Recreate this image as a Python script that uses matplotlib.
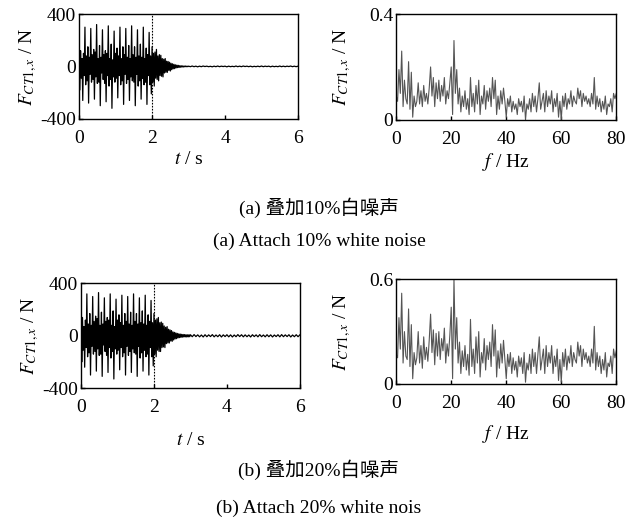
import numpy as np
import matplotlib
matplotlib.use("Agg")
import matplotlib.pyplot as plt

plt.rcParams['font.family'] = ['Liberation Serif', 'Noto Sans CJK SC']
plt.rcParams['mathtext.fontset'] = 'stix'
plt.rcParams['axes.unicode_minus'] = False
plt.rcParams['font.size'] = 14

# time signals, 0-2 s, every 0.02 s (forced response + noise)
sig_a_main = [
    240, -180, 120, -90, 60, -260, 100, -70, 300, -140,
    80, -110, 150, -280, 70, -60, 290, -120, 90, -100,
    130, -250, 110, -80, 320, -130, 60, -120, 160, -300,
    70, -50, 280, -100, 90, -130, 120, -270, 100, -70,
    310, -150, 60, -100, 170, -320, 50, -80, 270, -120,
    100, -90, 140, -240, 80, -70, 300, -140, 60, -110,
    150, -290, 90, -60, 290, -130, 70, -100, 160, -260,
    60, -80, 310, -110, 90, -120, 150, -300, 70, -60,
    280, -150, 80, -110, 170, -250, 70, -90, 300, -140,
    60, -120, 140, -290, 90, -70, 260, -140, 80, -210]
# 2-3 s, every 0.02 s (free decay)
sig_a_decay = [
    150, -120, 100, -150, 110, -90, 130, -100, 80, -110,
    90, -70, 85, -75, 60, -80, 55, -50, 60, -45,
    40, -45, 38, -30, 32, -35, 24, -25, 20, -18,
    16, -17, 12, -11, 10, -9, 8, -8, 6, -6,
    5, -5, 4, -4, 3, -3, 3, -2, 2, -2]
# 3-6 s, every 0.05 s
sig_a_tail = [
    2, -2, 3, -2, 2, -3, 2, -2, 3, -1, 2, -2, 1, -3, 2, -2, 3, -2, 2, -1,
    2, -3, 2, -2, 1, -2, 3, -2, 2, -2, 3, -1, 2, -2, 2, -3, 1, -2, 2, -2,
    3, -2, 2, -1, 2, -3, 2, -2, 1, -2, 3, -2, 2, -2, 2, -1, 3, -2, 2, -2, 2]

sig_b_main = [
    280, -200, 140, -110, 70, -240, 120, -90, 320, -160,
    90, -130, 170, -300, 80, -80, 300, -140, 110, -120,
    150, -270, 130, -100, 330, -150, 80, -140, 180, -310,
    90, -70, 290, -120, 110, -150, 140, -280, 120, -90,
    320, -170, 80, -120, 190, -330, 70, -100, 280, -140,
    120, -110, 160, -260, 100, -90, 310, -160, 80, -130,
    170, -300, 110, -80, 300, -150, 90, -120, 180, -280,
    80, -100, 320, -130, 110, -140, 170, -310, 90, -80,
    290, -170, 100, -130, 190, -270, 90, -110, 310, -160,
    80, -140, 160, -300, 110, -90, 270, -160, 100, -230]
sig_b_decay = [
    170, -140, 120, -160, 130, -110, 140, -120, 100, -120,
    105, -90, 95, -85, 75, -90, 65, -60, 70, -55,
    50, -55, 45, -40, 40, -42, 30, -32, 26, -24,
    22, -22, 18, -16, 15, -14, 13, -12, 11, -10,
    10, -9, 9, -8, 8, -9, 7, -8, 8, -7]
sig_b_tail = [
    8, -7, 9, -6, 7, -8, 6, -9, 8, -7, 7, -6, 9, -8, 6, -7, 8, -9, 7, -6,
    8, -8, 7, -9, 6, -7, 9, -6, 8, -8, 7, -7, 6, -9, 8, -6, 7, -8, 9, -7,
    6, -8, 8, -7, 7, -9, 6, -6, 8, -8, 9, -7, 7, -6, 8, -9, 6, -7, 8, -7, 7]

# amplitude spectra, 0-80 Hz every 0.5 Hz
spec_a = [
    0.09, 0.07, 0.19, 0.10, 0.26, 0.05, 0.15, 0.08, 0.06, 0.22,
    0.04, 0.18, 0.01, 0.09, 0.05, 0.07, 0.14, 0.06, 0.11, 0.05,
    0.13, 0.07, 0.10, 0.06, 0.12, 0.20, 0.09, 0.16, 0.05, 0.14,
    0.08, 0.15, 0.07, 0.13, 0.09, 0.16, 0.06, 0.11, 0.08, 0.14,
    0.20, 0.02, 0.30, 0.10, 0.19, 0.06, 0.12, 0.03, 0.09, 0.05,
    0.11, 0.04, 0.08, 0.02, 0.16, 0.05, 0.10, 0.03, 0.13, 0.06,
    0.15, 0.02, 0.09, 0.06, 0.13, 0.04, 0.11, 0.07, 0.12, 0.05,
    0.16, 0.08, 0.15, 0.02, 0.09, 0.04, 0.11, 0.06, 0.12, 0.07,
    0.01, 0.08, 0.05, 0.09, 0.03, 0.07, 0.04, 0.06, 0.02, 0.08,
    0.05, 0.07, 0.03, 0.09, 0.00, 0.06, 0.04, 0.08, 0.03, 0.10,
    0.05, 0.09, 0.03, 0.08, 0.14, 0.04, 0.07, 0.10, 0.03, 0.11,
    0.05, 0.09, 0.06, 0.11, 0.03, 0.08, 0.05, 0.10, 0.01, 0.07,
    0.00, 0.09, 0.05, 0.10, 0.04, 0.08, 0.06, 0.11, 0.05, 0.09,
    0.07, 0.06, 0.12, 0.08, 0.11, 0.05, 0.10, 0.07, 0.09, 0.06,
    0.08, 0.05, 0.10, 0.06, 0.16, 0.04, 0.09, 0.05, 0.08, 0.03,
    0.07, 0.04, 0.09, 0.02, 0.06, 0.05, 0.08, 0.03, 0.10, 0.08, 0.10]
spec_b = [
    0.17, 0.15, 0.38, 0.20, 0.52, 0.12, 0.30, 0.16, 0.14, 0.43,
    0.10, 0.34, 0.03, 0.18, 0.11, 0.15, 0.30, 0.12, 0.22, 0.09,
    0.27, 0.14, 0.21, 0.13, 0.25, 0.40, 0.18, 0.31, 0.11, 0.29,
    0.16, 0.30, 0.14, 0.26, 0.19, 0.32, 0.12, 0.23, 0.16, 0.28,
    0.44, 0.03, 0.60, 0.20, 0.38, 0.12, 0.24, 0.06, 0.19, 0.10,
    0.22, 0.08, 0.17, 0.05, 0.37, 0.10, 0.20, 0.06, 0.27, 0.12,
    0.30, 0.04, 0.18, 0.12, 0.26, 0.08, 0.22, 0.14, 0.24, 0.10,
    0.34, 0.16, 0.31, 0.04, 0.19, 0.09, 0.23, 0.12, 0.25, 0.14,
    0.03, 0.17, 0.10, 0.18, 0.06, 0.15, 0.08, 0.13, 0.04, 0.16,
    0.10, 0.15, 0.06, 0.18, 0.01, 0.12, 0.08, 0.17, 0.06, 0.20,
    0.10, 0.18, 0.06, 0.17, 0.27, 0.08, 0.14, 0.20, 0.06, 0.22,
    0.10, 0.18, 0.12, 0.22, 0.06, 0.16, 0.10, 0.20, 0.02, 0.14,
    0.01, 0.18, 0.10, 0.20, 0.08, 0.16, 0.12, 0.22, 0.10, 0.18,
    0.14, 0.12, 0.24, 0.16, 0.22, 0.10, 0.20, 0.14, 0.18, 0.12,
    0.16, 0.10, 0.20, 0.12, 0.33, 0.08, 0.18, 0.10, 0.16, 0.06,
    0.14, 0.08, 0.18, 0.04, 0.12, 0.10, 0.16, 0.06, 0.20, 0.15, 0.19]

captions = [("(a) 叠加10%白噪声", "(a) Attach 10% white noise"),
            ("(b) 叠加20%白噪声", "(b) Attach 20% white nois")]


def time_axis(main, decay, tail):
    t1 = np.arange(len(main)) * 0.02
    t2 = 2.0 + np.arange(len(decay)) * 0.02
    t3 = 3.0 + np.arange(len(tail)) * 0.05
    return np.concatenate([t1, t2, t3]), np.concatenate([main, decay, tail])


def style(ax):
    ax.tick_params(direction='in', length=3, width=1, labelsize=14)
    ax.tick_params(axis='x', pad=8)
    ax.tick_params(axis='y', pad=2)
    for s in ax.spines.values():
        s.set_linewidth(1.0)


fig = plt.figure(figsize=(6.38, 5.21), dpi=100)

# axes boxes [left, bottom, width, height] in figure fraction
boxes_t = [[0.124, 0.772, 0.343, 0.201], [0.127, 0.255, 0.343, 0.201]]
boxes_f = [[0.621, 0.770, 0.345, 0.203], [0.621, 0.263, 0.345, 0.201]]
sigs = [(sig_a_main, sig_a_decay, sig_a_tail), (sig_b_main, sig_b_decay, sig_b_tail)]
specs = [spec_a, spec_b]
spec_max = [0.4, 0.6]
cap_y = [(0.601, 0.536), (0.098, 0.025)]
xpad_t = [3, 11]
xpad_f = [2, 8]

ylab = r'$F_{CT1,x}$ / N'

for i in range(2):
    ax = fig.add_axes(boxes_t[i])
    t, y = time_axis(*sigs[i])
    ax.plot(t, y, color='black', lw=0.9)
    ax.axvline(2, color='black', lw=0.8, ls=(0, (1.5, 1.2)))
    ax.set_xlim(0, 6)
    ax.set_ylim(-400, 400)
    ax.set_xticks([0, 2, 4, 6])
    ax.set_yticks([-400, 0, 400])
    ax.set_xlabel(r'$t$ / s', fontsize=14, labelpad=xpad_t[i])
    ax.set_ylabel(ylab, fontsize=14, labelpad=1)
    style(ax)

    ax2 = fig.add_axes(boxes_f[i])
    f = np.arange(len(specs[i])) * 0.5
    ax2.plot(f, specs[i], color='#555555', lw=0.8)
    ax2.set_xlim(0, 80)
    ax2.set_ylim(0, spec_max[i])
    ax2.set_xticks([0, 20, 40, 60, 80])
    ax2.set_yticks([0, spec_max[i]])
    ax2.set_yticklabels(['0', str(spec_max[i])])
    ax2.set_xlabel(r'$f$ / Hz', fontsize=14, labelpad=xpad_f[i])
    ax2.set_ylabel(ylab, fontsize=14, labelpad=12)
    style(ax2)

    fig.text(0.5, cap_y[i][0], captions[i][0], ha='center', va='center', fontsize=14)
    fig.text(0.5, cap_y[i][1], captions[i][1], ha='center', va='center', fontsize=14)

fig.savefig('out.png', dpi=100)
